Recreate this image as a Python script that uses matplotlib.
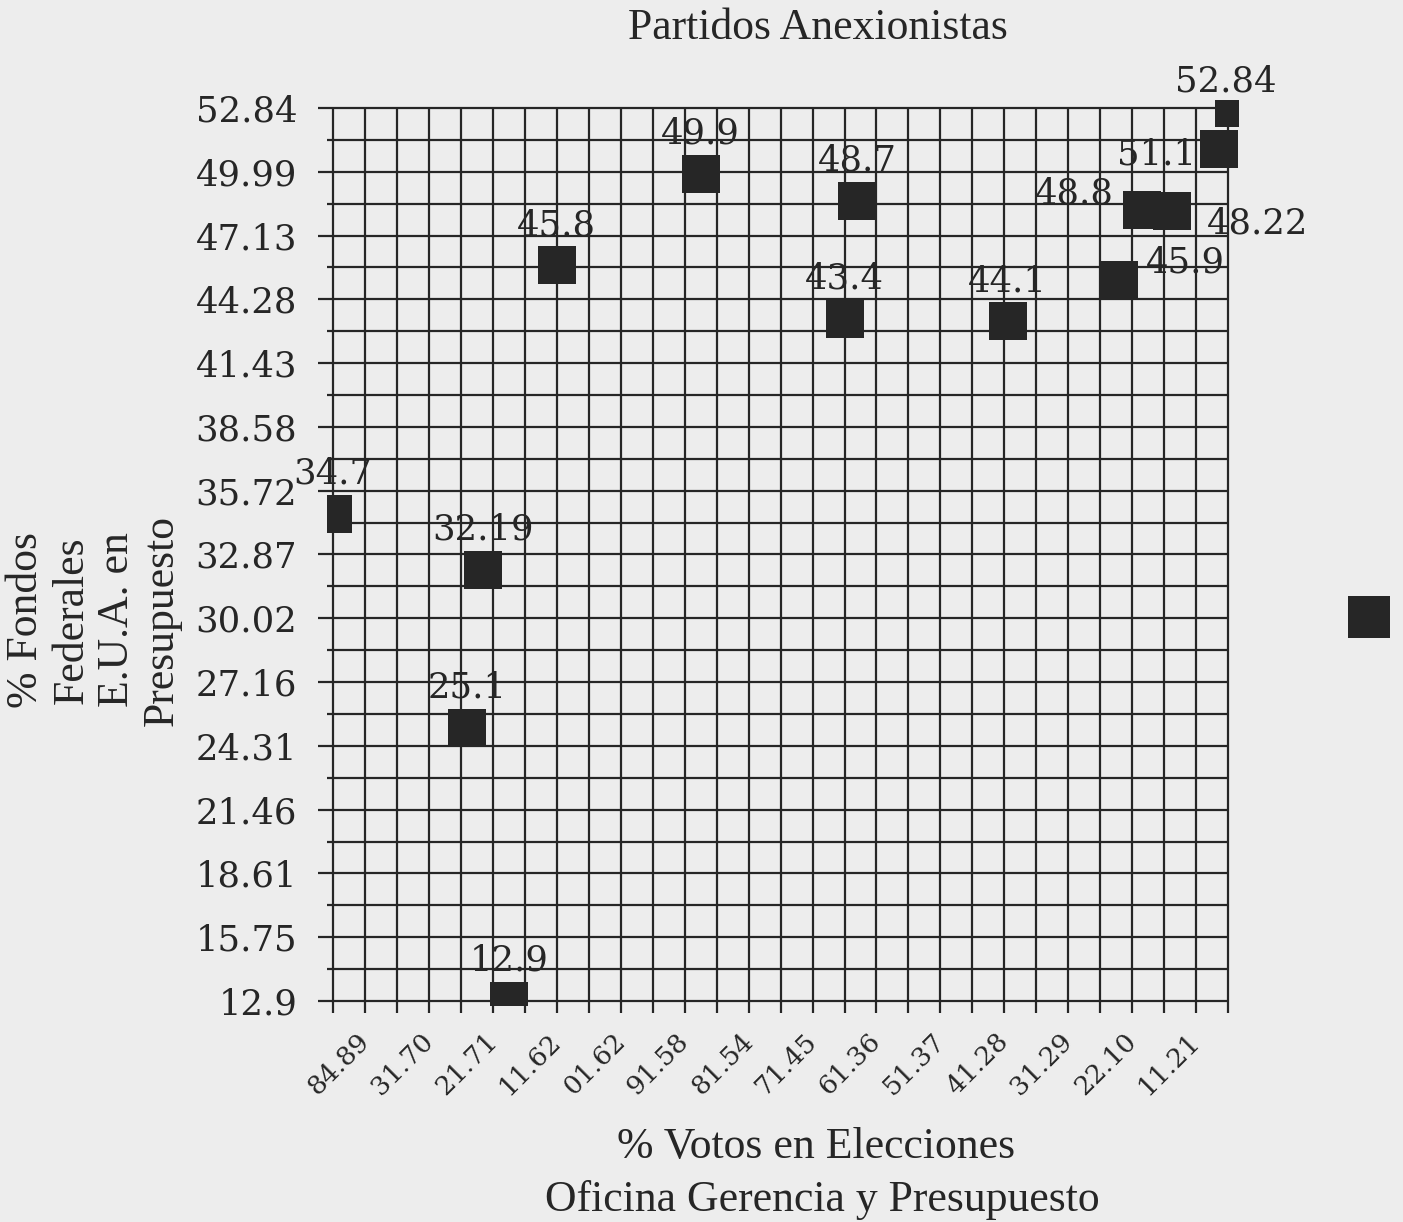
import matplotlib
matplotlib.use('Agg')
import matplotlib.pyplot as plt
import matplotlib.transforms as mtransforms
from matplotlib.lines import Line2D
import numpy as np

titulo = 'Partidos Anexionistas'
etiqueta_x1 = '% Votos en Elecciones'
etiqueta_x2 = 'Oficina Gerencia y Presupuesto'
etiqueta_y = '% Fondos\nFederales\nE.U.A. en\nPresupuesto'

# etiquetas del eje x (tal cual aparecen en el original)
marcas_x = ['84.89', '31.70', '21.71', '11.62', '01.62', '91.58', '81.54',
            '71.45', '61.36', '51.37', '41.28', '31.29', '22.10', '11.21']
marcas_y = [12.9, 15.75, 18.61, 21.46, 24.31, 27.16, 30.02, 32.87,
            35.72, 38.58, 41.43, 44.28, 47.13, 49.99, 52.84]

# posicion de cada punto (en celdas de la cuadricula) y su valor
pos_x = [0, 4.7, 4.2, 5.5, 7.0, 11.5, 16.4, 16.0, 21.1, 24.6, 25.3, 26.25, 27.7, 28.2]
fondos = [34.7, 32.19, 25.1, 12.9, 45.8, 49.9, 48.7, 43.4, 43.3, 45.14, 48.27, 48.22, 51.0, 52.84]
etiquetas = ['34.7', '32.19', '25.1', '12.9', '45.8', '49.9', '48.7', '43.4',
             '44.1', '45.9', '48.8', '48.22', '51.1', '52.84']
lado = ['arriba'] * 9 + ['der_alto', 'izq_alto', 'der_bajo', 'izq', 'arriba_borde']

desplaz = {
    'arriba': ((0, 29), 'center'),
    'arriba_borde': ((-6, 19), 'center'),
    'der_alto': ((19, 13), 'left'),
    'der_bajo': ((25, -9), 'left'),
    'izq_alto': ((-20, 12), 'right'),
    'izq': ((-16, -4), 'right'),
}

FONDO = '#ededed'
NEGRO = '#262626'
plt.rcParams['font.family'] = ['DejaVu Serif']

W, H = 1403, 1222
fig = plt.figure(figsize=(W / 100, H / 100), dpi=100, facecolor=FONDO)
ax = fig.add_axes([327 / W, (H - 1005) / H, (1238 - 327) / W, (1005 - 100) / H])
ax.set_facecolor(FONDO)

ncol = 28
ymin, ymax = marcas_y[0], marcas_y[-1]
celda_y = (ymax - ymin) / 28
ax.set_xlim(-0.19, ncol + 0.31)
ax.set_ylim(ymin - 0.125 * celda_y, ymax + 0.25 * celda_y)

# cuadricula
filas = np.linspace(ymin, ymax, 29)
cols = np.arange(0, ncol + 1)
x0 = ax.get_xlim()[0]
y0 = ax.get_ylim()[0]
ax.hlines(filas, x0, ncol, color=NEGRO, lw=1.6, zorder=1)
ax.vlines(cols, y0, ymax, color=NEGRO, lw=1.6, zorder=1)
for s in ax.spines.values():
    s.set_visible(False)

# ejes
ax.set_yticks(marcas_y)
ax.set_yticklabels([f'{v:g}' for v in marcas_y])
ax.set_yticks(filas, minor=True)
ax.tick_params(axis='y', which='major', length=6.5, width=1.6, pad=15,
               labelsize=25.5, color=NEGRO, labelcolor=NEGRO)
ax.tick_params(axis='y', which='minor', length=0)

ax.set_xticks(np.arange(1, ncol, 2))
ax.set_xticklabels(marcas_x, rotation=45, ha='right')
ax.set_xticks(cols, minor=True)
ax.tick_params(axis='x', which='both', length=6, width=1.6, color=NEGRO)
ax.tick_params(axis='x', which='major', pad=11, labelsize=19, labelcolor=NEGRO)
off = mtransforms.ScaledTranslation(0.09, 0, fig.dpi_scale_trans)
for t in ax.get_xticklabels():
    t.set_transform(t.get_transform() + off)

# puntos
ax.plot(pos_x, fondos, 's', ms=28, mew=0, color=NEGRO, zorder=3)
for x, y, txt, l in zip(pos_x, fondos, etiquetas, lado):
    (dx, dy), ha = desplaz[l]
    ax.annotate(txt, (x, y), xytext=(dx, dy), textcoords='offset points',
                ha=ha, va='center', fontsize=25.5, color=NEGRO,
                annotation_clip=False, zorder=4)

# leyenda (solo el marcador)
fig.legend([Line2D([], [], marker='s', ls='none', ms=30, mew=0, color=NEGRO)], [''],
           loc='center', bbox_to_anchor=(1369 / W, 1 - 618 / H), frameon=False,
           handlelength=1, handletextpad=0, borderpad=0, borderaxespad=0)

# textos
serif = 'Liberation Serif'
fig.text(818 / W, 1 - 28 / H, titulo, ha='center', va='center',
         fontsize=31.5, family=serif, color=NEGRO)
fig.text(816 / W, 1 - 1147 / H, etiqueta_x1, ha='center', va='center',
         fontsize=31.5, family=serif, color=NEGRO)
fig.text(822 / W, 1 - 1200 / H, etiqueta_x2, ha='center', va='center',
         fontsize=31.5, family=serif, color=NEGRO)
fig.text(94 / W, 1 - 620 / H, etiqueta_y, ha='center', va='center', rotation=90,
         multialignment='center', linespacing=1.17, fontsize=31.5, family=serif,
         color=NEGRO)

fig.savefig('out.png', dpi=100, facecolor=FONDO)
